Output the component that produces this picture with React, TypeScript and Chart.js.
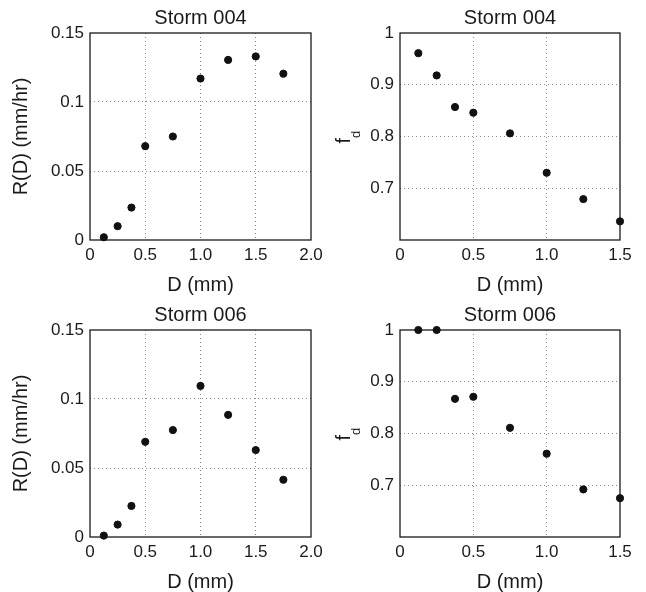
import React, { useEffect, useRef } from "react";
import { Chart, registerables } from "chart.js";

Chart.register(...registerables);

// ---- data ----
const dR = [0.125, 0.25, 0.375, 0.5, 0.75, 1.0, 1.25, 1.5, 1.75];
const r004 = [0.002, 0.010, 0.0235, 0.068, 0.075, 0.117, 0.1305, 0.133, 0.1205];
const r006 = [0.001, 0.009, 0.0225, 0.069, 0.0775, 0.1095, 0.0885, 0.063, 0.0415];
const dF = [0.125, 0.25, 0.375, 0.5, 0.75, 1.0, 1.25, 1.5];
const f004 = [0.961, 0.918, 0.857, 0.846, 0.806, 0.73, 0.679, 0.636];
const f006 = [1.0, 1.0, 0.867, 0.871, 0.811, 0.761, 0.692, 0.675];

const xTicksR = [0, 0.5, 1.0, 1.5, 2.0];
const xTickLabelsR = ["0", "0.5", "1.0", "1.5", "2.0"];
const xTicksF = [0, 0.5, 1.0, 1.5];
const xTickLabelsF = ["0", "0.5", "1.0", "1.5"];
const yTicksR = [0, 0.05, 0.1, 0.15];
const yTickLabelsR = ["0", "0.05", "0.1", "0.15"];
const yTicksF = [0.6, 0.7, 0.8, 0.9, 1.0];
const yTickLabelsF = ["", "0.7", "0.8", "0.9", "1"];

const titles = ["Storm 004", "Storm 004", "Storm 006", "Storm 006"];
const xLabel = "D (mm)";
const yLabelR = "R(D) (mm/hr)";

const FONT = "'Liberation Sans', Arial, Helvetica, sans-serif";
const W = 323;
const H = 296;

type Panel = {
  left: number; top: number;
  L: number; R: number; T: number; B: number;
  xs: number[]; ys: number[];
  xTicks: number[]; xLabels: string[];
  yTicks: number[]; yLabels: string[];
  title: string; kind: "R" | "F";
};

const panels: Panel[] = [
  { left: 0, top: 0, L: 90, R: 311, T: 33, B: 240, xs: dR, ys: r004, xTicks: xTicksR, xLabels: xTickLabelsR, yTicks: yTicksR, yLabels: yTickLabelsR, title: titles[0], kind: "R" },
  { left: 323, top: 0, L: 77, R: 297, T: 33, B: 240, xs: dF, ys: f004, xTicks: xTicksF, xLabels: xTickLabelsF, yTicks: yTicksF, yLabels: yTickLabelsF, title: titles[1], kind: "F" },
  { left: 0, top: 296, L: 90, R: 311, T: 34, B: 241, xs: dR, ys: r006, xTicks: xTicksR, xLabels: xTickLabelsR, yTicks: yTicksR, yLabels: yTickLabelsR, title: titles[2], kind: "R" },
  { left: 323, top: 296, L: 77, R: 297, T: 34, B: 241, xs: dF, ys: f006, xTicks: xTicksF, xLabels: xTickLabelsF, yTicks: yTicksF, yLabels: yTickLabelsF, title: titles[3], kind: "F" },
];

function PanelChart({ p }: { p: Panel }) {
  const ref = useRef<HTMLCanvasElement | null>(null);
  useEffect(() => {
    if (!ref.current) return;
    const xmin = p.xTicks[0], xmax = p.xTicks[p.xTicks.length - 1];
    const ymin = p.yTicks[0], ymax = p.yTicks[p.yTicks.length - 1];
    const gridColor = (ctx: any) => {
      const v = ctx.tick ? ctx.tick.value : null;
      if (v === null) return "transparent";
      const s = ctx.scale;
      if (Math.abs(v - s.min) < 1e-9 || Math.abs(v - s.max) < 1e-9) return "transparent";
      return "#8a8a8a";
    };
    const decor = {
      id: "decor" + p.title + p.kind,
      beforeDatasetsDraw(chart: any) {
        const { ctx, chartArea: a } = chart;
        ctx.save();
        ctx.strokeStyle = "#1a1a1a";
        ctx.lineWidth = 1.3;
        ctx.strokeRect(a.left, a.top, a.right - a.left, a.bottom - a.top);
        ctx.restore();
      },
      afterDraw(chart: any) {
        const { ctx, chartArea: a } = chart;
        const cx = (a.left + a.right) / 2;
        const cy = (a.top + a.bottom) / 2;
        ctx.save();
        ctx.fillStyle = "#1a1a1a";
        ctx.font = `20px ${FONT}`;
        ctx.textAlign = "center";
        ctx.textBaseline = "alphabetic";
        ctx.fillText(p.title, cx, a.top - 9);
        ctx.fillText(xLabel, cx, a.bottom + 50.7);
        if (p.kind === "R") {
          ctx.translate(27, cy);
          ctx.rotate(-Math.PI / 2);
          ctx.textAlign = "center";
          ctx.fillText(yLabelR, 0, 0);
        } else {
          ctx.translate(27, cy + 7);
          ctx.rotate(-Math.PI / 2);
          ctx.textAlign = "left";
          ctx.font = `20px ${FONT}`;
          ctx.fillText("f", 0, 0);
          const fw = ctx.measureText("f").width;
          ctx.font = `13px ${FONT}`;
          ctx.fillText("d", fw, 10);
        }
        ctx.restore();
      },
    };
    const chart = new Chart(ref.current, {
      type: "scatter",
      data: {
        datasets: [
          {
            data: p.xs.map((x, i) => ({ x, y: p.ys[i] })),
            backgroundColor: "#111",
            borderColor: "#111",
            pointRadius: 3.6,
            pointHoverRadius: 3.6,
            clip: false as any,
          },
        ],
      },
      options: {
        animation: false,
        responsive: false,
        devicePixelRatio: 1,
        layout: { padding: { left: 0, top: p.T, right: W - p.R, bottom: 0 } },
        plugins: { legend: { display: false }, tooltip: { enabled: false }, title: { display: false } },
        scales: {
          x: {
            type: "linear",
            min: xmin,
            max: xmax,
            afterFit: (s: any) => {
              s.height = H - p.B;
              s.paddingLeft = 0;
              s.paddingRight = 0;
            },
            afterBuildTicks: (s: any) => { s.ticks = p.xTicks.map((v) => ({ value: v })); },
            ticks: {
              padding: 5,
              color: "#1a1a1a",
              font: { family: FONT, size: 17 },
              maxRotation: 0,
              autoSkip: false,
              callback: (_v: any, i: number) => p.xLabels[i],
            },
            grid: { color: gridColor, lineWidth: 1, drawTicks: false },
            border: { display: false, dash: [1, 3] },
          },
          y: {
            type: "linear",
            min: ymin,
            max: ymax,
            afterFit: (s: any) => {
              s.width = p.L;
              s.paddingTop = 0;
              s.paddingBottom = 0;
            },
            afterBuildTicks: (s: any) => { s.ticks = p.yTicks.map((v) => ({ value: v })); },
            ticks: {
              padding: 6,
              color: "#1a1a1a",
              font: { family: FONT, size: 17 },
              autoSkip: false,
              callback: (_v: any, i: number) => p.yLabels[i],
            },
            grid: { color: gridColor, lineWidth: 1, drawTicks: false },
            border: { display: false, dash: [1, 3] },
          },
        },
      },
      plugins: [decor],
    });
    return () => chart.destroy();
  }, [p]);
  return (
    <canvas
      ref={ref}
      width={W}
      height={H}
      style={{ position: "absolute", left: p.left, top: p.top, width: W, height: H }}
    />
  );
}

export default function App() {
  return (
    <div style={{ position: "absolute", left: 0, top: 0, width: 646, height: 592, background: "#fff" }}>
      {panels.map((p, i) => (
        <PanelChart key={i} p={p} />
      ))}
    </div>
  );
}
